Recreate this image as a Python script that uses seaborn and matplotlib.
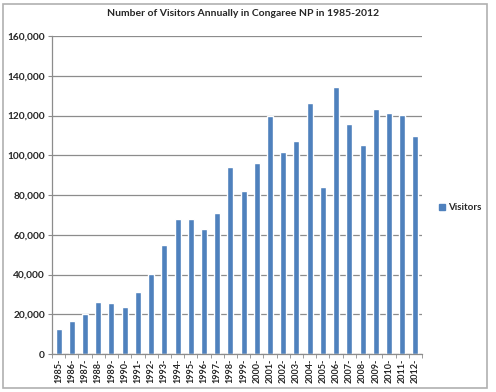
import matplotlib
matplotlib.use('Agg')
import matplotlib.pyplot as plt
import seaborn as sns
import pandas as pd
from matplotlib.patches import Patch, Rectangle
from matplotlib.ticker import FuncFormatter, FixedLocator

# Visitors per year
years = [str(y) + '-' for y in range(1985, 2013)]
visitors = [12400, 16400, 20300, 26300, 25500, 23400, 31000, 40100, 54700, 67800,
            68000, 62700, 70800, 94000, 82200, 96000, 119700, 101600, 107200, 126300,
            84200, 134200, 115600, 105000, 123100, 121300, 120300, 109700]

df = pd.DataFrame({'Year': years, 'Visitors': visitors})

sns.set_style('white')
plt.rcParams['font.family'] = ['Lato', 'DejaVu Sans']

fig = plt.figure(figsize=(4.96, 3.92), dpi=100)
ax = fig.add_axes([52 / 496, 1 - 354 / 392, 370 / 496, 318 / 392])

sns.barplot(data=df, x='Year', y='Visitors', color='#4F81BD', width=0.45,
            saturation=1, ax=ax)

ax.set_ylim(0, 160000)
ax.set_xlim(-0.5, len(years) - 0.5)
ax.set_yticks(range(0, 160001, 20000))
ax.yaxis.set_major_formatter(FuncFormatter(lambda v, p: f'{int(v):,}'))
ax.grid(axis='y', color='#8c8c8c', linewidth=0.9)
ax.set_axisbelow(True)
for s in ['top', 'right']:
    ax.spines[s].set_visible(False)
for s in ['left', 'bottom']:
    ax.spines[s].set_color('#8c8c8c')
    ax.spines[s].set_linewidth(0.9)

ax.tick_params(axis='y', labelsize=7.3, length=3, color='#8c8c8c', pad=2, direction='out', left=True)
for t in ax.get_yticklabels():
    t.set_fontweight('bold')
ax.tick_params(axis='x', which='major', length=0, labelsize=6.5, rotation=90, pad=3)
ax.xaxis.set_minor_locator(FixedLocator([i - 0.5 for i in range(len(years) + 1)]))
ax.tick_params(axis='x', which='minor', length=3, color='#8c8c8c', direction='out', bottom=True)
for t in ax.get_xticklabels():
    t.set_fontweight('bold')
ax.set_xlabel('')
ax.set_ylabel('')

fig.suptitle('Number of Visitors Annually in Congaree NP in 1985-2012', x=0.49, y=1 - 14 / 392,
             fontsize=7.5, fontweight='bold', va='center')

fig.legend(handles=[Patch(color='#4F81BD', label='Visitors')], loc='center left',
           bbox_to_anchor=(430 / 496, 1 - 208 / 392), frameon=False,
           handlelength=0.6, handleheight=0.6, handletextpad=0.4, prop={'weight': 'bold', 'size': 7})

fig.patches.append(Rectangle((3 / 496, 4 / 392), 484 / 496, 384 / 392, transform=fig.transFigure,
                             fill=False, edgecolor='#b0b0b0', linewidth=1.2))

fig.savefig('out.png', dpi=100)
